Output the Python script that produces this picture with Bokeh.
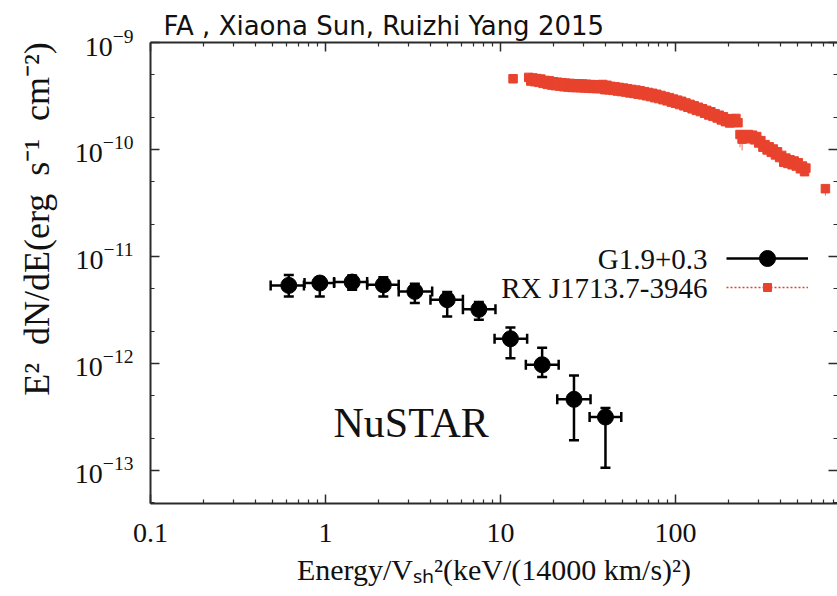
from bokeh.plotting import figure
from bokeh.models import (Range1d, FixedTicker, LogAxis, Whisker, TeeHead,
                          ColumnDataSource, Label, Legend, LegendItem,
                          CustomJSTickFormatter)
from bokeh.embed import file_html
from bokeh.resources import INLINE

# ---------------- data ----------------
# G1.9+0.3 (NuSTAR)
g_x = [0.617, 0.928, 1.42, 2.14, 3.24, 4.96, 7.52, 11.4, 17.3, 26.3, 39.8]
g_xlo = [0.486, 0.759, 1.12, 1.73, 2.62, 3.98, 6.10, 9.25, 13.96, 21.1, 32.3]
g_xhi = [0.753, 1.12, 1.73, 2.62, 4.07, 6.10, 9.36, 14.2, 21.5, 32.7, 49.0]
g_y = [5.36e-12, 5.64e-12, 5.76e-12, 5.43e-12, 4.71e-12, 3.94e-12, 3.20e-12,
       1.70e-12, 9.72e-13, 4.61e-13, 3.15e-13]
g_ylo = [4.23e-12, 4.23e-12, 4.89e-12, 4.23e-12, 3.66e-12, 2.75e-12, 2.56e-12,
         1.12e-12, 7.45e-13, 1.91e-13, 1.06e-13]
g_yhi = [6.7e-12, 6.4e-12, 6.64e-12, 6.4e-12, 5.56e-12, 4.65e-12, 3.74e-12,
         2.16e-12, 1.40e-12, 7.72e-13, 3.82e-13]

# RX J1713.7-3946
rx_x = [11.8, 14.5, 14.9, 15.3, 15.7, 16.1, 16.6, 17.0, 17.5, 18.0,
        18.5, 19.0, 19.6, 20.1, 20.6, 21.2, 21.8, 22.4, 23.0, 23.6,
        24.3, 25.0, 25.7, 26.4, 27.1, 27.9, 28.6, 29.4, 30.2, 31.0,
        31.9, 32.7, 33.6, 34.5, 35.5, 36.4, 37.4, 38.4, 39.5, 40.6,
        41.7, 42.8, 44.0, 45.2, 46.5, 47.8, 49.1, 50.5, 51.9, 53.3,
        54.8, 56.3, 57.9, 59.5, 61.1, 62.8, 64.6, 66.4, 68.2, 70.1,
        72.0, 74.0, 76.1, 78.2, 80.3, 82.6, 84.9, 87.2, 89.6, 92.1,
        94.7, 97.3, 100.0, 102.8, 105.6, 108.5, 111.6, 114.7, 117.8, 121.1,
        124.5, 127.9, 131.5, 135.1, 138.9, 142.7, 146.7, 150.8, 155.0, 159.3,
        163.7, 168.3, 173.0, 177.8, 182.7, 187.8, 193.0, 198.4, 203.9, 209.6,
        215.4, 221.4, 227.5, 233.8, 240.3, 247.0, 253.8, 260.9, 268.2, 275.6,
        283.3, 291.1, 299.2, 307.5, 316.1, 324.8, 333.9, 343.1, 352.7, 362.4,
        372.5, 382.9, 393.5, 404.4, 415.6, 427.2, 439.0, 451.2, 463.7, 476.6,
        489.8, 503.4, 517.4, 531.7, 546.5, 556.0, 719.0]
rx_y_e10 = [4.58, 4.72, 4.36, 4.66, 4.30, 4.60, 4.24, 4.55, 4.15, 4.42,
            4.06, 4.38, 4.00, 4.30, 3.95, 4.25, 3.91, 4.21, 3.86, 4.17,
            3.83, 4.14, 3.80, 4.12, 3.79, 4.11, 3.78, 4.09, 3.76, 4.07,
            3.74, 4.04, 3.72, 4.03, 3.71, 4.01, 3.70, 4.05, 3.62, 3.98,
            3.61, 3.89, 3.57, 3.85, 3.52, 3.80, 3.48, 3.75, 3.44, 3.69,
            3.38, 3.64, 3.34, 3.59, 3.29, 3.54, 3.24, 3.47, 3.18, 3.41,
            3.12, 3.35, 3.05, 3.28, 2.99, 3.20, 2.92, 3.12, 2.85, 3.05,
            2.77, 2.96, 2.70, 2.89, 2.63, 2.82, 2.56, 2.72, 2.48, 2.64,
            2.40, 2.56, 2.32, 2.48, 2.26, 2.40, 2.18, 2.32, 2.10, 2.25,
            2.04, 2.16, 1.97, 2.09, 1.89, 2.02, 1.82, 1.94, 1.77, 1.93,
            1.79, 1.95, 1.78, 1.38, 1.25, 1.36, 1.26, 1.38, 1.27, 1.36,
            1.23, 1.32, 1.15, 1.21, 1.05, 1.11, 0.99, 1.06, 0.94, 1.01,
            0.89, 0.95, 0.84, 0.88, 0.76, 0.83, 0.74, 0.80, 0.72, 0.78,
            0.70, 0.75, 0.66, 0.70, 0.62, 0.67, 0.43]
rx_y = [v * 1e-10 for v in rx_y_e10]
# the few RX error bars that stick out of the band
rx_err_x = [233.8, 240.3, 719.0]
rx_err_lo = [1.05e-10, 0.98e-10, 0.37e-10]
rx_err_hi = [1.52e-10, 1.40e-10, 0.47e-10]

x_major = [0.1, 1, 10, 100]
y_major = [1e-13, 1e-12, 1e-11, 1e-10, 1e-9]

series_labels = ["G1.9+0.3", "RX J1713.7-3946"]
title_text = "FA , Xiaona Sun, Ruizhi Yang 2015"
note_text = "NuSTAR"
x_label = "Energy/V\u209b\u2095\u00b2(keV/(14000 km/s)\u00b2)"
y_label = "E\u00b2\u00a0 dN/dE(erg\u00a0 s\u207b\u00b9\u00a0 cm\u207b\u00b2)"

# ---------------- styles ----------------
RED = "#e8432e"
SERIF = "Liberation Serif"
AX = "#2b2b2b"
Y_LABEL_PAD = "\u00a0" * 12   # shifts the rotated label up along the axis

x_minor = [m * d for d in x_major for m in range(2, 10)]
y_minor = [m * d for d in [1e-14] + y_major for m in (2, 5)]

p = figure(width=837, height=596, x_axis_type="log", y_axis_type="log",
           x_range=Range1d(0.1, 843), y_range=Range1d(4.9e-14, 1e-9),
           output_backend="svg", toolbar_location=None,
           min_border_left=150, min_border_right=0, min_border_top=42,
           min_border_bottom=93)
p.outline_line_color = None
p.xgrid.grid_line_color = None
p.ygrid.grid_line_color = None

p.title.text = title_text
p.title.text_font = "DejaVu Sans"
p.title.text_font_size = "26px"
p.title.text_font_style = "normal"
p.title.text_color = "#111111"
p.title.align = "left"
p.title.offset = 13
p.title.standoff = 4

xt = FixedTicker(ticks=x_major, minor_ticks=x_minor)
yt = FixedTicker(ticks=y_major, minor_ticks=y_minor)

def style(ax, labels=True):
    ax.axis_line_color = AX
    ax.axis_line_width = 2
    ax.major_tick_line_color = AX
    ax.minor_tick_line_color = AX
    ax.major_tick_line_width = 1.5
    ax.minor_tick_line_width = 1.2
    ax.major_tick_in = 9
    ax.major_tick_out = 0
    ax.minor_tick_in = 4
    ax.minor_tick_out = 0
    if labels:
        ax.major_label_text_font = SERIF
        ax.major_label_text_font_size = "28px"
        ax.major_label_text_color = "#111111"
        ax.axis_label_text_font = SERIF
        ax.axis_label_text_font_style = "normal"
        ax.axis_label_text_font_size = "30px"
        ax.axis_label_text_color = "#111111"
    else:
        ax.formatter = CustomJSTickFormatter(code="return '';")
        ax.major_label_text_font_size = "1px"
        ax.major_label_standoff = 0

xa = p.xaxis[0]
xa.ticker = xt
xa.formatter = CustomJSTickFormatter(code="return String(Number(tick.toPrecision(6)));")
style(xa)
xa.major_label_standoff = 20
xa.axis_label = x_label
xa.axis_label_standoff = 8

ya = p.yaxis[0]
ya.ticker = yt
style(ya)
ya.major_label_standoff = 17
ya.axis_label = Y_LABEL_PAD + y_label
ya.axis_label_text_font_size = "36px"
ya.axis_label_standoff = 15

top = LogAxis(ticker=xt)
style(top, labels=False)
p.add_layout(top, "above")
right = LogAxis(ticker=yt)
style(right, labels=False)
right.axis_line_color = None
p.add_layout(right, "right")

# ---------------- RX J1713.7-3946 ----------------
rsrc = ColumnDataSource(dict(x=rx_x, y=rx_y))
resrc = ColumnDataSource(dict(x=rx_err_x, lo=rx_err_lo, hi=rx_err_hi))
p.add_layout(Whisker(source=resrc, base="x", lower="lo", upper="hi", dimension="height",
                     line_color=RED, line_width=1, line_alpha=0.8,
                     upper_head=None, lower_head=None))
r_pts = p.scatter("x", "y", source=rsrc, marker="square", size=8.5,
                  fill_color=RED, line_color=RED)

# ---------------- G1.9+0.3 ----------------
gsrc = ColumnDataSource(dict(x=g_x, y=g_y, xlo=g_xlo, xhi=g_xhi, ylo=g_ylo, yhi=g_yhi))
for dim, base, lo, hi in (("height", "x", "ylo", "yhi"), ("width", "y", "xlo", "xhi")):
    p.add_layout(Whisker(source=gsrc, base=base, lower=lo, upper=hi, dimension=dim,
                         line_color="black", line_width=2.5,
                         upper_head=TeeHead(size=10, line_width=2.5, line_color="black"),
                         lower_head=TeeHead(size=10, line_width=2.5, line_color="black")))
g_pts = p.scatter("x", "y", source=gsrc, marker="circle", size=16,
                  fill_color="black", line_color="black")

# legend sample lines (one point each, hidden under the first marker of each series)
g_leg = p.line(x=[g_x[0]], y=[g_y[0]], line_color="black", line_width=2.5)
r_leg = p.line(x=[rx_x[0]], y=[rx_y[0]], line_color=RED, line_width=1.5, line_dash="2 2")

common = dict(glyph_width=82, padding=0, margin=0, label_standoff=0, label_width=0,
              label_text_font_size="10px", border_line_color=None,
              background_fill_alpha=0)
leg_g = Legend(items=[LegendItem(label="\u00a0", renderers=[g_leg, g_pts])],
               location=(576, 225), glyph_height=40, **common)
leg_r = Legend(items=[LegendItem(label="\u00a0", renderers=[r_leg, r_pts])],
               location=(576, 206), glyph_height=20, **common)
p.add_layout(leg_g)
p.add_layout(leg_r)

for txt, yy in zip(series_labels, (245, 216)):
    p.add_layout(Label(x=557, y=yy, x_units="screen", y_units="screen", text=txt,
                       text_align="right", text_baseline="middle",
                       text_font=SERIF, text_font_size="29px", text_color="#111111"))

p.add_layout(Label(x=183, y=81, x_units="screen", y_units="screen", text=note_text,
                   text_baseline="alphabetic", text_font=SERIF,
                   text_font_size="42px", text_color="#111111"))

open("out.html", "w").write(file_html(p, INLINE))
